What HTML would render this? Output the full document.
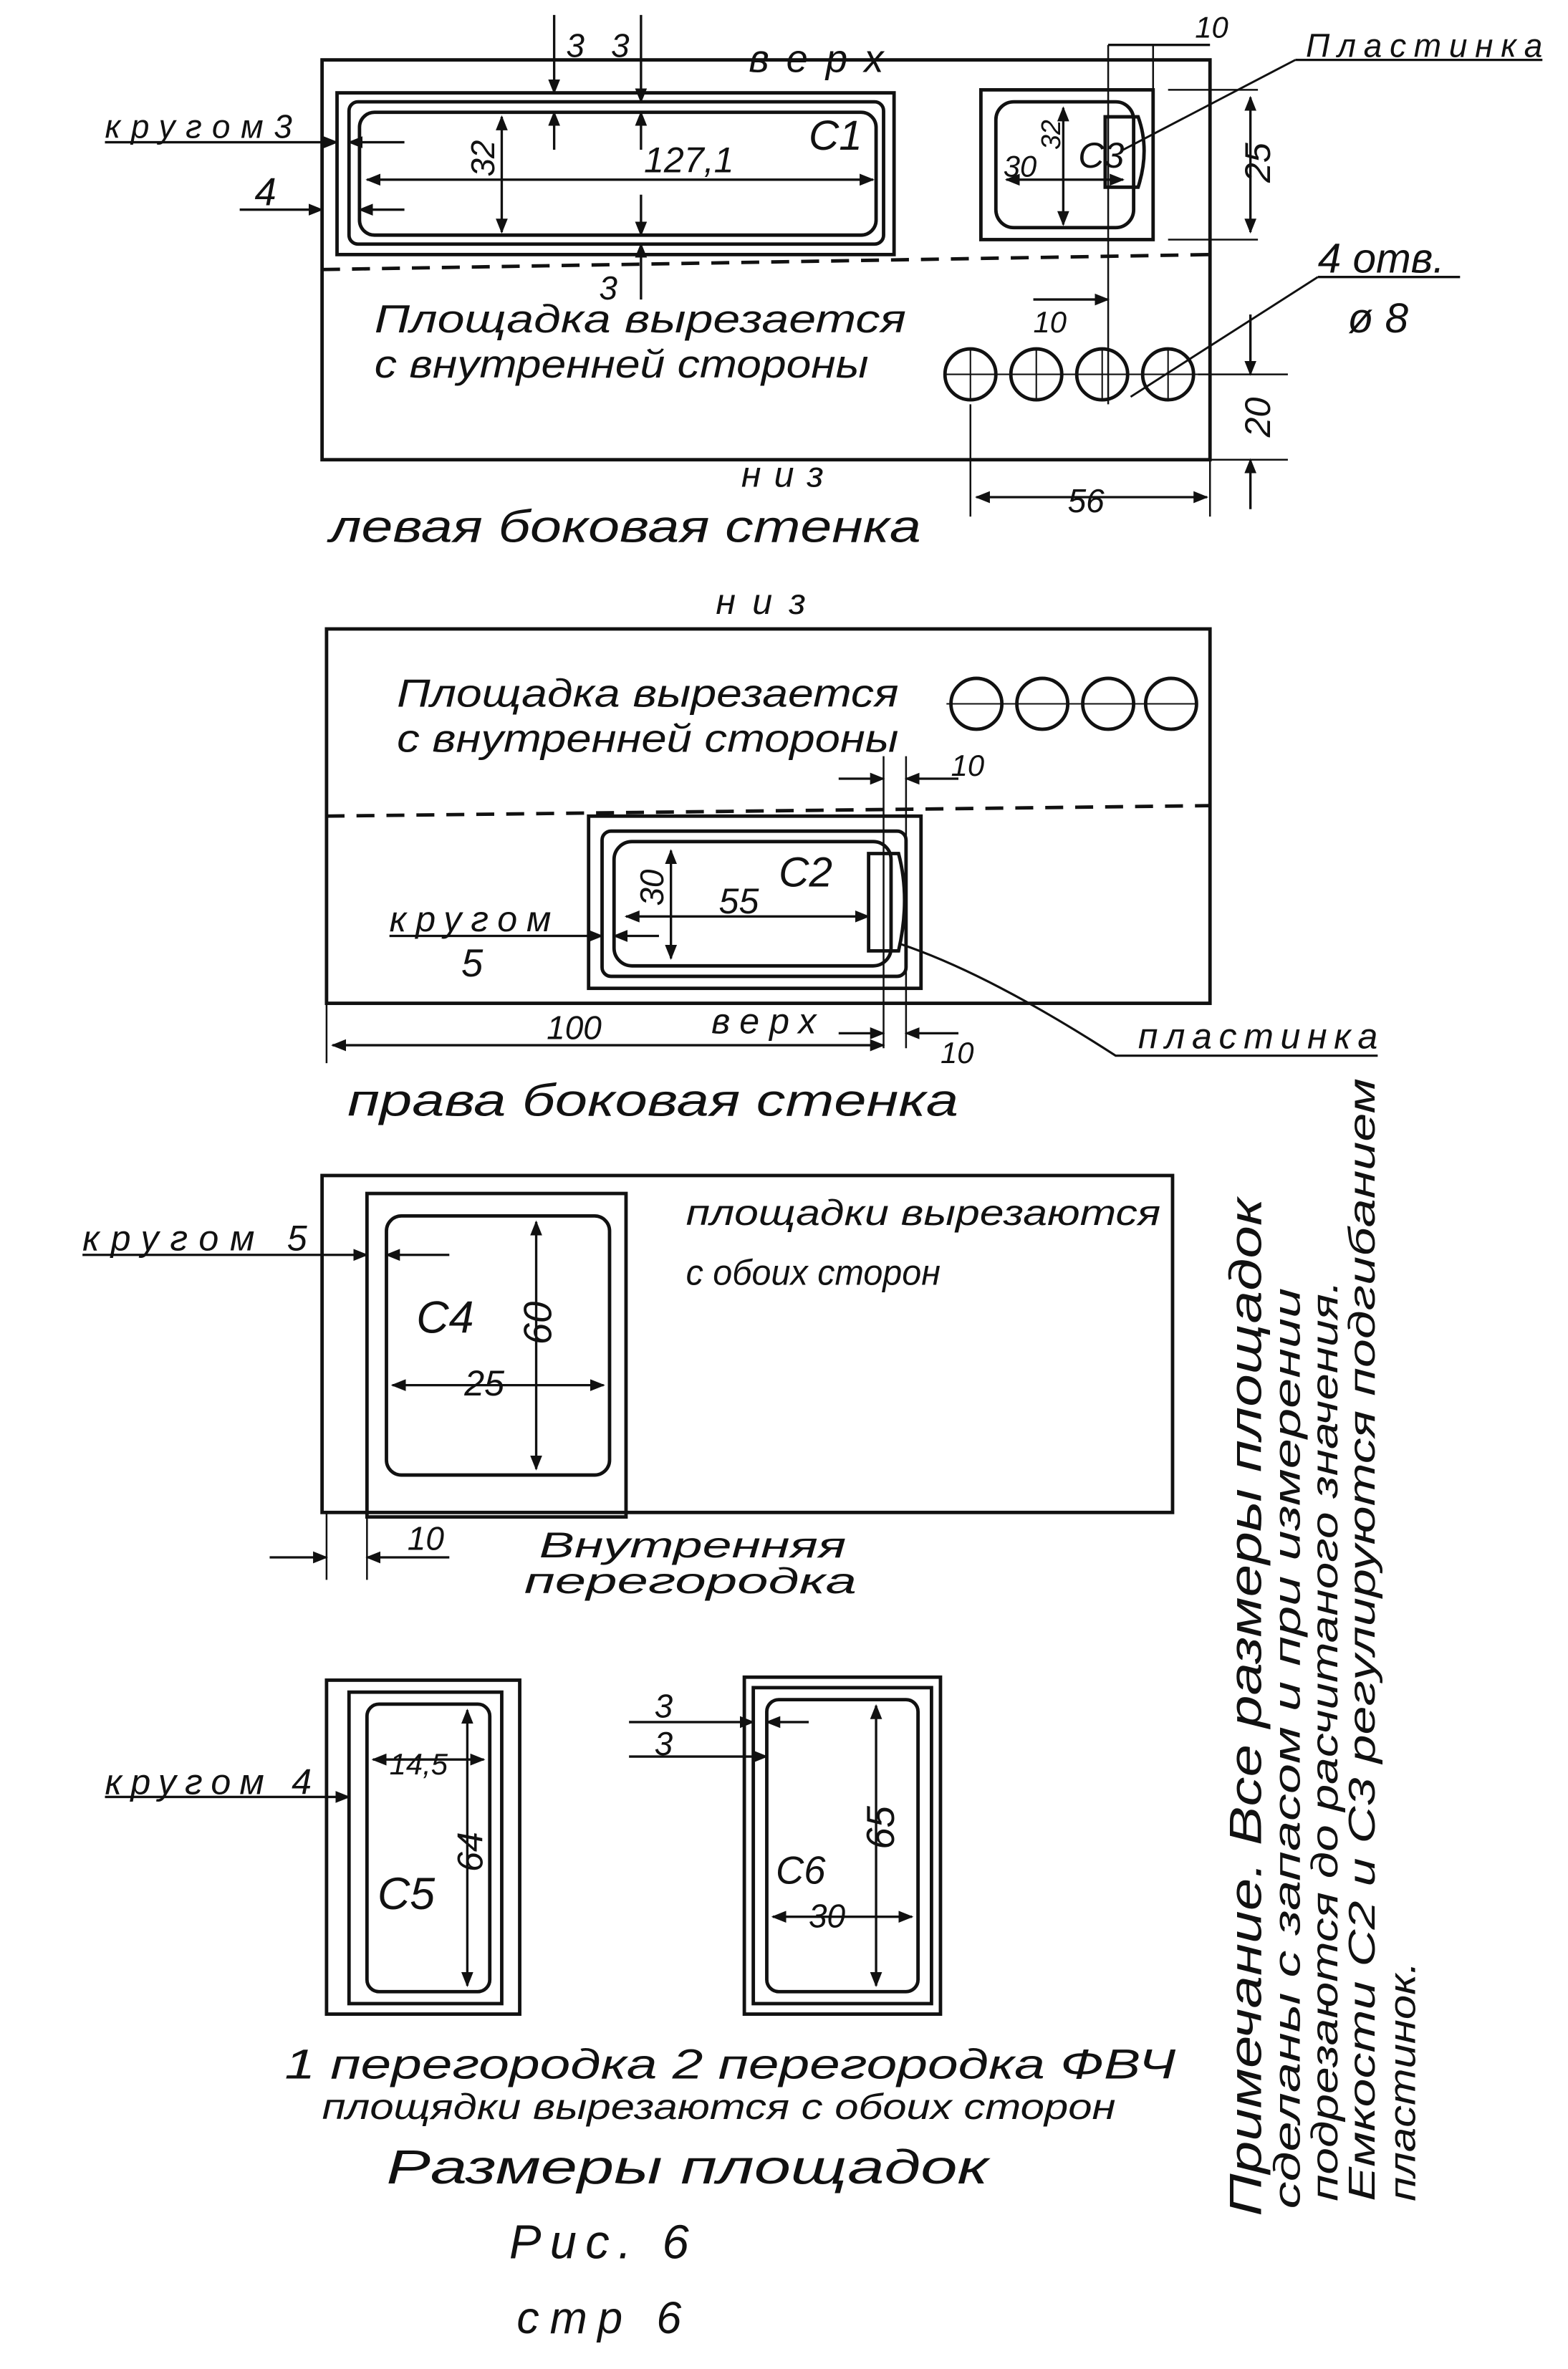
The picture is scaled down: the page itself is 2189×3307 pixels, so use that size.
<!DOCTYPE html>
<html><head><meta charset="utf-8"><style>
html,body{margin:0;padding:0;background:#fff;}
svg{display:block;}
text{font-family:"Liberation Sans",sans-serif;font-style:italic;fill:#111;}
</style></head><body>
<svg width="2189" height="3307" viewBox="0 0 1047 1582" xmlns="http://www.w3.org/2000/svg">
<defs><marker id="a" markerWidth="10" markerHeight="8" refX="9" refY="4" orient="auto-start-reverse" markerUnits="userSpaceOnUse"><path d="M0,0 L10,4 L0,8 z" fill="#111"/></marker></defs>
<g stroke="#111" stroke-width="2.3" fill="none">
<rect x="215" y="40" width="593" height="267"/>
<rect x="225" y="62" width="372" height="108"/>
<rect x="233" y="68" width="357" height="95" rx="6"/>
<rect x="240" y="75" width="345" height="82" rx="10"/>
<path d="M215 180 L808 170" stroke-dasharray="12,8"/>
<rect x="655" y="60" width="115" height="100"/>
<rect x="665" y="68" width="92" height="84" rx="12"/>
<path d="M738 78 L760 78 Q768 100 760 125 L738 125 Z"/>
<circle cx="648" cy="250" r="17"/><circle cx="692" cy="250" r="17"/><circle cx="736" cy="250" r="17"/><circle cx="780" cy="250" r="17"/>
<line x1="630" y1="250" x2="800" y2="250" stroke-width="1"/>
<line x1="648" y1="232" x2="648" y2="268" stroke-width="1"/><line x1="692" y1="232" x2="692" y2="268" stroke-width="1"/><line x1="736" y1="232" x2="736" y2="268" stroke-width="1"/><line x1="780" y1="232" x2="780" y2="268" stroke-width="1"/>
<line x1="245" y1="120" x2="583" y2="120" marker-start="url(#a)" marker-end="url(#a)" stroke-width="1.6"/>
<line x1="335" y1="78" x2="335" y2="155" marker-start="url(#a)" marker-end="url(#a)" stroke-width="1.6"/>
<line x1="370" y1="10" x2="370" y2="62" marker-end="url(#a)" stroke-width="1.6"/>
<line x1="370" y1="100" x2="370" y2="75" marker-end="url(#a)" stroke-width="1.6"/>
<line x1="428" y1="10" x2="428" y2="68" marker-end="url(#a)" stroke-width="1.6"/>
<line x1="428" y1="100" x2="428" y2="75" marker-end="url(#a)" stroke-width="1.6"/>
<line x1="428" y1="200" x2="428" y2="163" marker-end="url(#a)" stroke-width="1.6"/>
<line x1="428" y1="130" x2="428" y2="157" marker-end="url(#a)" stroke-width="1.6"/>
<line x1="70" y1="95" x2="225" y2="95" marker-end="url(#a)" stroke-width="1.6"/>
<line x1="160" y1="140" x2="215" y2="140" marker-end="url(#a)" stroke-width="1.6"/>
<line x1="270" y1="95" x2="233" y2="95" marker-end="url(#a)" stroke-width="1.6"/>
<line x1="270" y1="140" x2="240" y2="140" marker-end="url(#a)" stroke-width="1.6"/>
<line x1="672" y1="120" x2="750" y2="120" marker-start="url(#a)" marker-end="url(#a)" stroke-width="1.6"/>
<line x1="710" y1="72" x2="710" y2="150" marker-start="url(#a)" marker-end="url(#a)" stroke-width="1.6"/>
<line x1="740" y1="30" x2="808" y2="30" stroke-width="1.6"/>
<line x1="740" y1="30" x2="740" y2="270" stroke-width="1.2"/>
<line x1="770" y1="30" x2="770" y2="160" stroke-width="1.2"/>
<line x1="780" y1="60" x2="840" y2="60" stroke-width="1.2"/>
<line x1="780" y1="160" x2="840" y2="160" stroke-width="1.2"/>
<line x1="835" y1="65" x2="835" y2="155" marker-start="url(#a)" marker-end="url(#a)" stroke-width="1.6"/>
<line x1="800" y1="250" x2="860" y2="250" stroke-width="1.2"/>
<line x1="808" y1="307" x2="860" y2="307" stroke-width="1.2"/>
<line x1="835" y1="210" x2="835" y2="250" marker-end="url(#a)" stroke-width="1.6"/>
<line x1="835" y1="340" x2="835" y2="307" marker-end="url(#a)" stroke-width="1.6"/>
<line x1="648" y1="270" x2="648" y2="345" stroke-width="1.2"/>
<line x1="808" y1="307" x2="808" y2="345" stroke-width="1.2"/>
<line x1="652" y1="332" x2="806" y2="332" marker-start="url(#a)" marker-end="url(#a)" stroke-width="1.6"/>
<line x1="690" y1="200" x2="740" y2="200" marker-end="url(#a)" stroke-width="1.6"/>
<line x1="865" y1="40" x2="1030" y2="40" stroke-width="1.6"/>
<line x1="750" y1="100" x2="865" y2="40" stroke-width="1.4"/>
<line x1="755" y1="265" x2="880" y2="185" stroke-width="1.4"/>
<line x1="880" y1="185" x2="975" y2="185" stroke-width="1.6"/>
<rect x="218" y="420" width="590" height="250"/>
<path d="M218 545 L808 538" stroke-dasharray="12,8"/>
<circle cx="652" cy="470" r="17"/><circle cx="696" cy="470" r="17"/><circle cx="740" cy="470" r="17"/><circle cx="782" cy="470" r="17"/>
<line x1="632" y1="470" x2="800" y2="470" stroke-width="1"/>
<rect x="393" y="545" width="222" height="115"/>
<rect x="402" y="555" width="203" height="97" rx="6"/>
<rect x="410" y="562" width="185" height="83" rx="12"/>
<path d="M580 570 L600 570 Q608 600 600 635 L580 635 Z"/>
<line x1="418" y1="612" x2="580" y2="612" marker-start="url(#a)" marker-end="url(#a)" stroke-width="1.6"/>
<line x1="448" y1="568" x2="448" y2="640" marker-start="url(#a)" marker-end="url(#a)" stroke-width="1.6"/>
<line x1="260" y1="625" x2="402" y2="625" marker-end="url(#a)" stroke-width="1.6"/>
<line x1="440" y1="625" x2="410" y2="625" marker-end="url(#a)" stroke-width="1.6"/>
<line x1="590" y1="505" x2="590" y2="700" stroke-width="1.2"/>
<line x1="605" y1="505" x2="605" y2="700" stroke-width="1.2"/>
<line x1="560" y1="520" x2="590" y2="520" marker-end="url(#a)" stroke-width="1.6"/>
<line x1="640" y1="520" x2="605" y2="520" marker-end="url(#a)" stroke-width="1.6"/>
<line x1="560" y1="690" x2="590" y2="690" marker-end="url(#a)" stroke-width="1.6"/>
<line x1="640" y1="690" x2="605" y2="690" marker-end="url(#a)" stroke-width="1.6"/>
<line x1="218" y1="670" x2="218" y2="710" stroke-width="1.2"/>
<line x1="222" y1="698" x2="590" y2="698" marker-start="url(#a)" marker-end="url(#a)" stroke-width="1.6"/>
<path d="M600 630 Q660 650 745 705 L920 705" stroke-width="1.5"/>
<rect x="215" y="785" width="568" height="225"/>
<rect x="245" y="797" width="173" height="216"/>
<rect x="258" y="812" width="149" height="173" rx="10"/>
<line x1="55" y1="838" x2="245" y2="838" marker-end="url(#a)" stroke-width="1.6"/>
<line x1="300" y1="838" x2="258" y2="838" marker-end="url(#a)" stroke-width="1.6"/>
<line x1="262" y1="925" x2="403" y2="925" marker-start="url(#a)" marker-end="url(#a)" stroke-width="1.6"/>
<line x1="358" y1="816" x2="358" y2="981" marker-start="url(#a)" marker-end="url(#a)" stroke-width="1.6"/>
<line x1="218" y1="1010" x2="218" y2="1055" stroke-width="1.2"/>
<line x1="245" y1="1013" x2="245" y2="1055" stroke-width="1.2"/>
<line x1="180" y1="1040" x2="218" y2="1040" marker-end="url(#a)" stroke-width="1.6"/>
<line x1="300" y1="1040" x2="245" y2="1040" marker-end="url(#a)" stroke-width="1.6"/>
<rect x="218" y="1122" width="129" height="223"/>
<rect x="233" y="1130" width="102" height="208"/>
<rect x="245" y="1138" width="82" height="192" rx="8"/>
<line x1="70" y1="1200" x2="233" y2="1200" marker-end="url(#a)" stroke-width="1.6"/>
<line x1="249" y1="1175" x2="323" y2="1175" marker-start="url(#a)" marker-end="url(#a)" stroke-width="1.6"/>
<line x1="312" y1="1142" x2="312" y2="1326" marker-start="url(#a)" marker-end="url(#a)" stroke-width="1.6"/>
<rect x="497" y="1120" width="131" height="225"/>
<rect x="503" y="1127" width="119" height="211"/>
<rect x="512" y="1135" width="101" height="195" rx="8"/>
<line x1="420" y1="1150" x2="503" y2="1150" marker-end="url(#a)" stroke-width="1.6"/>
<line x1="540" y1="1150" x2="512" y2="1150" marker-end="url(#a)" stroke-width="1.6"/>
<line x1="420" y1="1173" x2="512" y2="1173" marker-end="url(#a)" stroke-width="1.6"/>
<line x1="516" y1="1280" x2="609" y2="1280" marker-start="url(#a)" marker-end="url(#a)" stroke-width="1.6"/>
<line x1="585" y1="1139" x2="585" y2="1326" marker-start="url(#a)" marker-end="url(#a)" stroke-width="1.6"/>
</g>
<g font-size="24">
<text x="500" y="48" font-size="26" textLength="90">верх</text>
<text x="495" y="325" font-size="24" textLength="55">низ</text>
<text x="220" y="362" font-size="30" textLength="395" lengthAdjust="spacingAndGlyphs">левая боковая стенка</text>
<text x="70" y="92" font-size="22" textLength="125">кругом3</text>
<text x="170" y="137" font-size="26">4</text>
<text x="378" y="38" font-size="22">3</text>
<text x="408" y="38" font-size="22">3</text>
<text x="400" y="200" font-size="22">3</text>
<text x="540" y="100" font-size="28">C1</text>
<text x="430" y="115" font-size="24">127,1</text>
<text transform="translate(330,118) rotate(-90)" font-size="22">32</text>
<text x="670" y="118" font-size="20">30</text>
<text transform="translate(708,100) rotate(-90)" font-size="18">32</text>
<text x="720" y="112" font-size="24">C3</text>
<text x="798" y="25" font-size="20">10</text>
<text x="872" y="38" font-size="22" textLength="158">Пластинка</text>
<text transform="translate(848,122) rotate(-90)" font-size="24">25</text>
<text x="880" y="182" font-size="28">4 отв.</text>
<text x="900" y="222" font-size="28">ø 8</text>
<text x="690" y="222" font-size="20">10</text>
<text transform="translate(848,292) rotate(-90)" font-size="24">20</text>
<text x="713" y="342" font-size="22">56</text>
<text x="250" y="222" font-size="26" textLength="355" lengthAdjust="spacingAndGlyphs">Площадка вырезается</text>
<text x="250" y="252" font-size="26" textLength="330" lengthAdjust="spacingAndGlyphs">с внутренней стороны</text>
<text x="478" y="410" font-size="24" textLength="60">низ</text>
<text x="265" y="472" font-size="26" textLength="335" lengthAdjust="spacingAndGlyphs">Площадка вырезается</text>
<text x="265" y="502" font-size="26" textLength="335" lengthAdjust="spacingAndGlyphs">с внутренней стороны</text>
<text x="635" y="518" font-size="20">10</text>
<text x="520" y="592" font-size="28">C2</text>
<text x="480" y="610" font-size="24">55</text>
<text transform="translate(443,605) rotate(-90)" font-size="22">30</text>
<text x="260" y="622" font-size="24" textLength="108">кругом</text>
<text x="308" y="652" font-size="26">5</text>
<text x="475" y="690" font-size="24" textLength="70">верх</text>
<text x="365" y="694" font-size="22">100</text>
<text x="628" y="710" font-size="20">10</text>
<text x="760" y="700" font-size="24" textLength="160">пластинка</text>
<text x="232" y="745" font-size="30" textLength="408" lengthAdjust="spacingAndGlyphs">права боковая стенка</text>
<text x="55" y="835" font-size="24" textLength="150">кругом 5</text>
<text x="458" y="818" font-size="24" textLength="317" lengthAdjust="spacingAndGlyphs">площадки вырезаются</text>
<text x="458" y="858" font-size="24" textLength="170" lengthAdjust="spacingAndGlyphs">с обоих сторон</text>
<text x="278" y="890" font-size="30">C4</text>
<text x="310" y="932" font-size="24">25</text>
<text transform="translate(368,898) rotate(-90)" font-size="26">60</text>
<text x="272" y="1035" font-size="22">10</text>
<text x="360" y="1040" font-size="24" textLength="205" lengthAdjust="spacingAndGlyphs">Внутренняя</text>
<text x="350" y="1064" font-size="24" textLength="222" lengthAdjust="spacingAndGlyphs">перегородка</text>
<text x="70" y="1198" font-size="24" textLength="138">кругом 4</text>
<text x="260" y="1185" font-size="20">14,5</text>
<text transform="translate(322,1250) rotate(-90)" font-size="24">64</text>
<text x="252" y="1275" font-size="30">C5</text>
<text x="437" y="1147" font-size="22">3</text>
<text x="437" y="1172" font-size="22">3</text>
<text transform="translate(597,1235) rotate(-90)" font-size="26">65</text>
<text x="518" y="1258" font-size="26">C6</text>
<text x="540" y="1287" font-size="22">30</text>
<text x="190" y="1388" font-size="28" textLength="595" lengthAdjust="spacingAndGlyphs">1 перегородка  2 перегородка ФВЧ</text>
<text x="215" y="1415" font-size="24" textLength="530" lengthAdjust="spacingAndGlyphs">площядки  вырезаются с обоих сторон</text>
<text x="258" y="1458" font-size="32" textLength="402" lengthAdjust="spacingAndGlyphs">Размеры площадок</text>
<text x="340" y="1508" font-size="32" textLength="120">Рис. 6</text>
<text x="345" y="1558" font-size="30" textLength="110">стр 6</text>
<g font-size="25">
<text transform="translate(842,1480) rotate(-90)" font-size="30" textLength="680" lengthAdjust="spacingAndGlyphs">Примечание. Все размеры площадок</text>
<text transform="translate(868,1475) rotate(-90)" textLength="615" lengthAdjust="spacingAndGlyphs">сделаны с запасом и при измерении</text>
<text transform="translate(893,1470) rotate(-90)" textLength="615" lengthAdjust="spacingAndGlyphs">подрезаются до расчитаного значения.</text>
<text transform="translate(918,1470) rotate(-90)" textLength="750" lengthAdjust="spacingAndGlyphs">Емкости С2 и С3 регулируются подгибанием</text>
<text transform="translate(945,1470) rotate(-90)" textLength="160" lengthAdjust="spacingAndGlyphs">пластинок.</text>
</g>
</g>
</svg>
</body></html>
